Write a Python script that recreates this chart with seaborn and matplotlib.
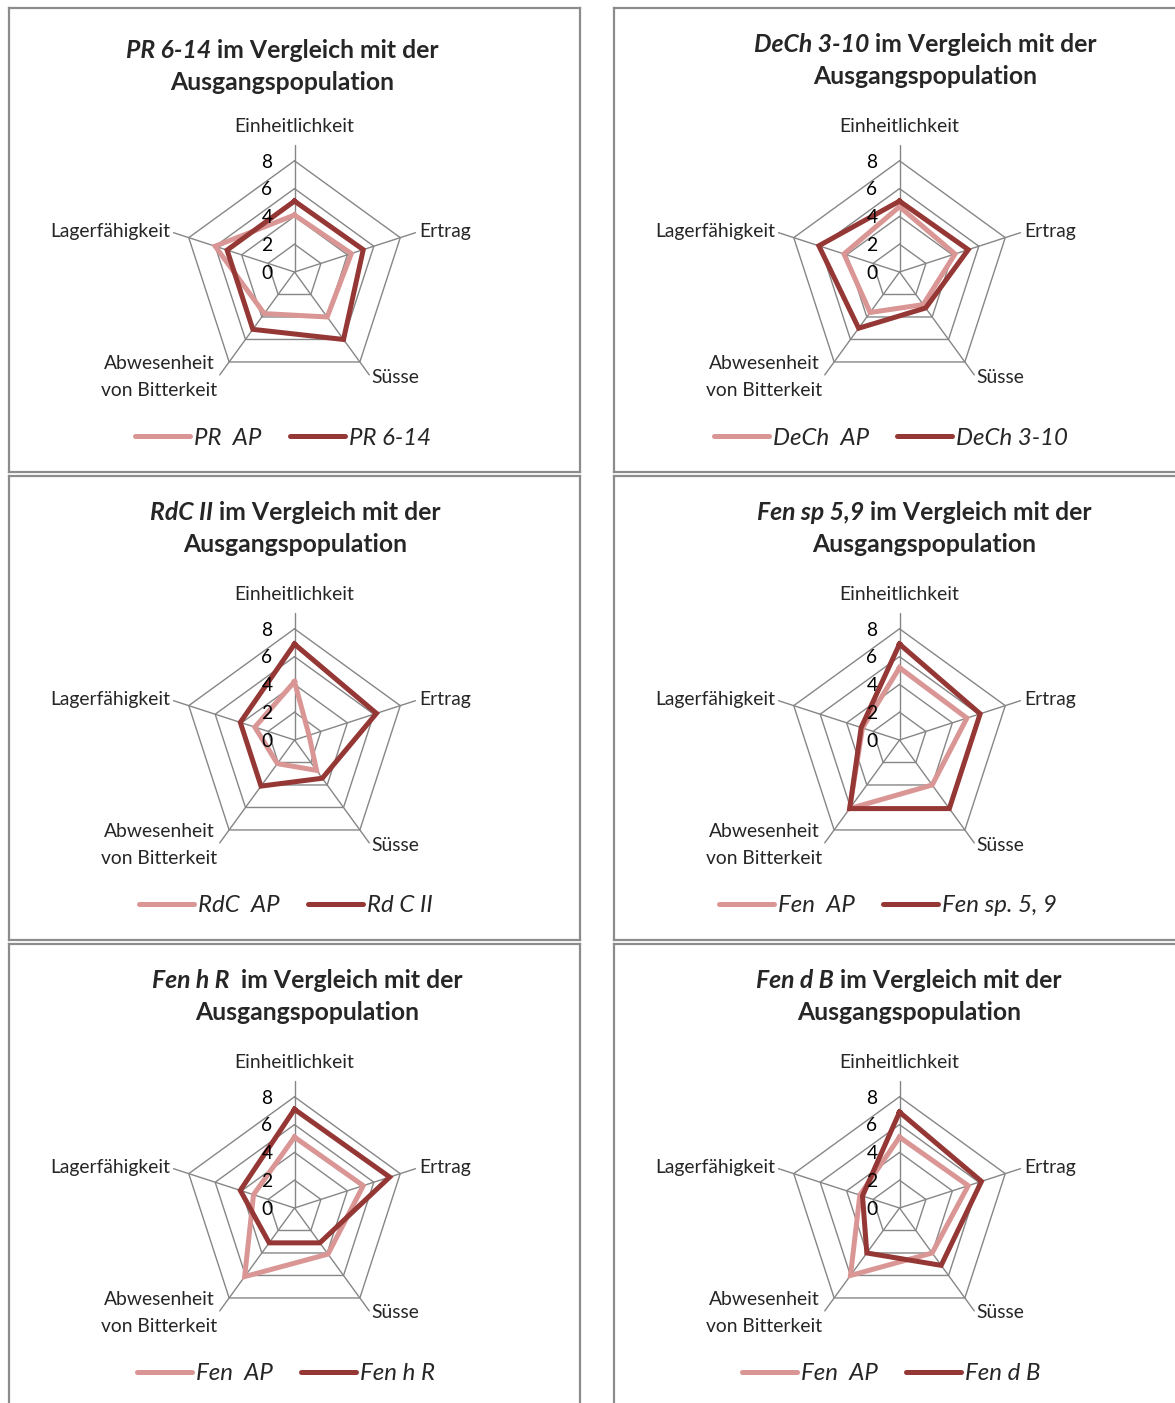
import matplotlib
matplotlib.use("Agg")
import numpy as np
import pandas as pd
import matplotlib.pyplot as plt
import seaborn as sns
from matplotlib.lines import Line2D

# ---- data -------------------------------------------------------------
criteria = ["Einheitlichkeit", "Ertrag", "Süsse", "Abwesenheit\nvon Bitterkeit", "Lagerfähigkeit"]
scale_ticks = [0, 2, 4, 6, 8]

strains = ["PR 6-14", "DeCh 3-10", "RdC II", "Fen sp 5,9", "Fen h R ", "Fen d B"]
title_tail = "im Vergleich mit der"
title_second = "Ausgangspopulation"
ap_labels = ["PR  AP", "DeCh  AP", "RdC  AP", "Fen  AP", "Fen  AP", "Fen  AP"]
sel_labels = ["PR 6-14", "DeCh 3-10", "Rd C II", "Fen sp. 5, 9", "Fen h R", "Fen d B"]

pr_ap     = [4.1, 4.3, 4.0, 3.7, 6.0]
pr_sel    = [5.1, 5.2, 6.0, 5.1, 5.1]
dech_ap   = [4.7, 4.2, 2.9, 3.6, 4.2]
dech_sel  = [5.1, 5.2, 3.2, 5.0, 6.1]
rdc_ap    = [4.2, 1.1, 2.7, 2.1, 3.0]
rdc_sel   = [6.9, 6.2, 3.4, 4.1, 4.1]
fensp_ap  = [5.2, 5.1, 4.0, 6.1, 2.8]
fensp_sel = [6.9, 6.1, 6.1, 6.1, 2.9]
fenh_ap   = [5.1, 5.2, 4.1, 6.1, 3.1]
fenh_sel  = [7.1, 7.2, 3.1, 3.1, 4.1]
fend_ap   = [5.1, 5.2, 4.0, 6.0, 3.0]
fend_sel  = [6.9, 6.2, 5.1, 4.0, 2.8]

ap_values = [pr_ap, dech_ap, rdc_ap, fensp_ap, fenh_ap, fend_ap]
sel_values = [pr_sel, dech_sel, rdc_sel, fensp_sel, fenh_sel, fend_sel]

# ---- style ------------------------------------------------------------
sns.set_theme(style="white")
FONT = ["Lato", "DejaVu Sans"]
plt.rcParams["font.family"] = FONT
LIGHT = "#D99694"
DARK = "#953735"
GRID = "#868686"
FRAME = "#8c8c8c"
SERIES_LW = 3.6

W, H = 1175, 1403
fig = plt.figure(figsize=(W / 100, H / 100), dpi=100)
renderer = fig.canvas.get_renderer()


def text_width(s, **kw):
    t = fig.text(0, 0, s, **kw)
    w = t.get_window_extent(renderer).width
    t.remove()
    return w


def fit_size(s, target_px, **kw):
    return 20 * target_px / text_width(s, fontsize=20, **kw)


title_fs = fit_size(title_second, 224, fontweight="bold")
label_fs = fit_size("Einheitlichkeit", 120)
legend_fs = fit_size("PR 6-14", 82, style="italic")
label_px = label_fs * 100 / 72
legend_px = legend_fs * 100 / 72


def fx(x):
    return x / W


def fy(y):
    return 1 - y / H


# ---- layout (pixels) ---------------------------------------------------
box_w, box_h = 571, 464
col_x = [9, 614]
row_y = [8, 476, 944]
cx, cy = 285.5, 264          # radar centre inside a box
unit = 13.9                  # pixels per scale unit
spoke_len = 9.15
title_cx = [273, 311, 286, 310, 298, 295]
title_y1 = [42, 36, 37, 37, 37, 37]
legend_cx = [274, 277, 277, 274, 277, 277]

angles = np.deg2rad(90 - 72 * np.arange(len(criteria)))
cosa, sina = np.cos(angles), np.sin(angles)

bold_gap = text_width("a a", fontsize=title_fs, fontweight="bold") - \
    text_width("aa", fontsize=title_fs, fontweight="bold")

for i in range(6):
    x0 = col_x[i % 2]
    y0 = row_y[i // 2]
    ax = fig.add_axes([fx(x0), fy(y0 + box_h), box_w / W, box_h / H])

    # pentagon grid and spokes
    for r in scale_ticks[1:]:
        ax.plot(np.append(r * cosa, r * cosa[0]), np.append(r * sina, r * sina[0]),
                color=GRID, lw=1.0, zorder=1)
    for c, s in zip(cosa, sina):
        ax.plot([0, spoke_len * c], [0, spoke_len * s], color=GRID, lw=1.0, zorder=1)

    # series polygons
    rows = []
    for name, vals in ((ap_labels[i], ap_values[i]), (sel_labels[i], sel_values[i])):
        v = np.array(vals + vals[:1], dtype=float)
        a = np.append(angles, angles[0])
        for k in range(len(v)):
            rows.append({"x": v[k] * np.cos(a[k]), "y": v[k] * np.sin(a[k]),
                         "series": name, "step": k})
    df = pd.DataFrame(rows)
    sns.lineplot(data=df, x="x", y="y", hue="series",
                 hue_order=[ap_labels[i], sel_labels[i]], palette=[LIGHT, DARK],
                 sort=False, estimator=None, linewidth=SERIES_LW, legend=False, ax=ax,
                 solid_joinstyle="miter", solid_capstyle="projecting", zorder=3)

    ax.set_xlim(-cx / unit, (box_w - cx) / unit)
    ax.set_ylim(-(box_h - cy) / unit, cy / unit)
    ax.set_xlabel("")
    ax.set_ylabel("")
    ax.set_xticks([])
    ax.set_yticks([])
    for sp in ax.spines.values():
        sp.set_color(FRAME)
        sp.set_linewidth(1.6)

    # scale values along the top spoke
    for r in scale_ticks:
        ax.text(-22 / unit, r - 0.1, str(r), ha="right", va="center",
                fontsize=label_fs, color="black", zorder=4)

    # criterion labels
    ax.text(0, 146 / unit, criteria[0], ha="center", va="center", fontsize=label_fs)
    ax.text(125 / unit, 41 / unit, criteria[1], ha="left", va="center", fontsize=label_fs)
    ax.text(77 / unit, -105 / unit, criteria[2], ha="left", va="center", fontsize=label_fs)
    ax.text(-77 / unit, -105 / unit, criteria[3], ha="right", va="center",
            multialignment="center", fontsize=label_fs, linespacing=1.24 * 26 / label_px)
    ax.text(-124 / unit, 41 / unit, criteria[4], ha="right", va="center", fontsize=label_fs)

    # title: strain name in bold italic, rest in bold
    name = strains[i].strip()
    wa = text_width(name, fontsize=title_fs, fontweight="bold", style="italic")
    wb = text_width(title_tail, fontsize=title_fs, fontweight="bold")
    extra = bold_gap if strains[i].endswith(" ") else 0
    total = wa + bold_gap + extra + wb
    left = x0 + title_cx[i] - total / 2
    ty = y0 + title_y1[i]
    fig.text(fx(left), fy(ty), name, ha="left", va="center",
             fontsize=title_fs, fontweight="bold", style="italic")
    fig.text(fx(left + wa + bold_gap + extra), fy(ty), title_tail, ha="left", va="center",
             fontsize=title_fs, fontweight="bold")
    fig.text(fx(x0 + title_cx[i]), fy(ty + 32), title_second, ha="center", va="center",
             fontsize=title_fs, fontweight="bold")

    # legend
    handles = [Line2D([], [], color=LIGHT, lw=SERIES_LW), Line2D([], [], color=DARK, lw=SERIES_LW)]
    ax.legend(handles, [ap_labels[i], sel_labels[i]], loc="center",
              bbox_to_anchor=(legend_cx[i] / box_w, 1 - (cy + 166) / box_h),
              bbox_transform=ax.transAxes, ncol=2, frameon=False,
              prop={"family": FONT, "style": "italic", "size": legend_fs},
              handlelength=55 / legend_px, handletextpad=4 / legend_px,
              columnspacing=28 / legend_px, borderpad=0, borderaxespad=0)

fig.savefig("out.png", dpi=100)
